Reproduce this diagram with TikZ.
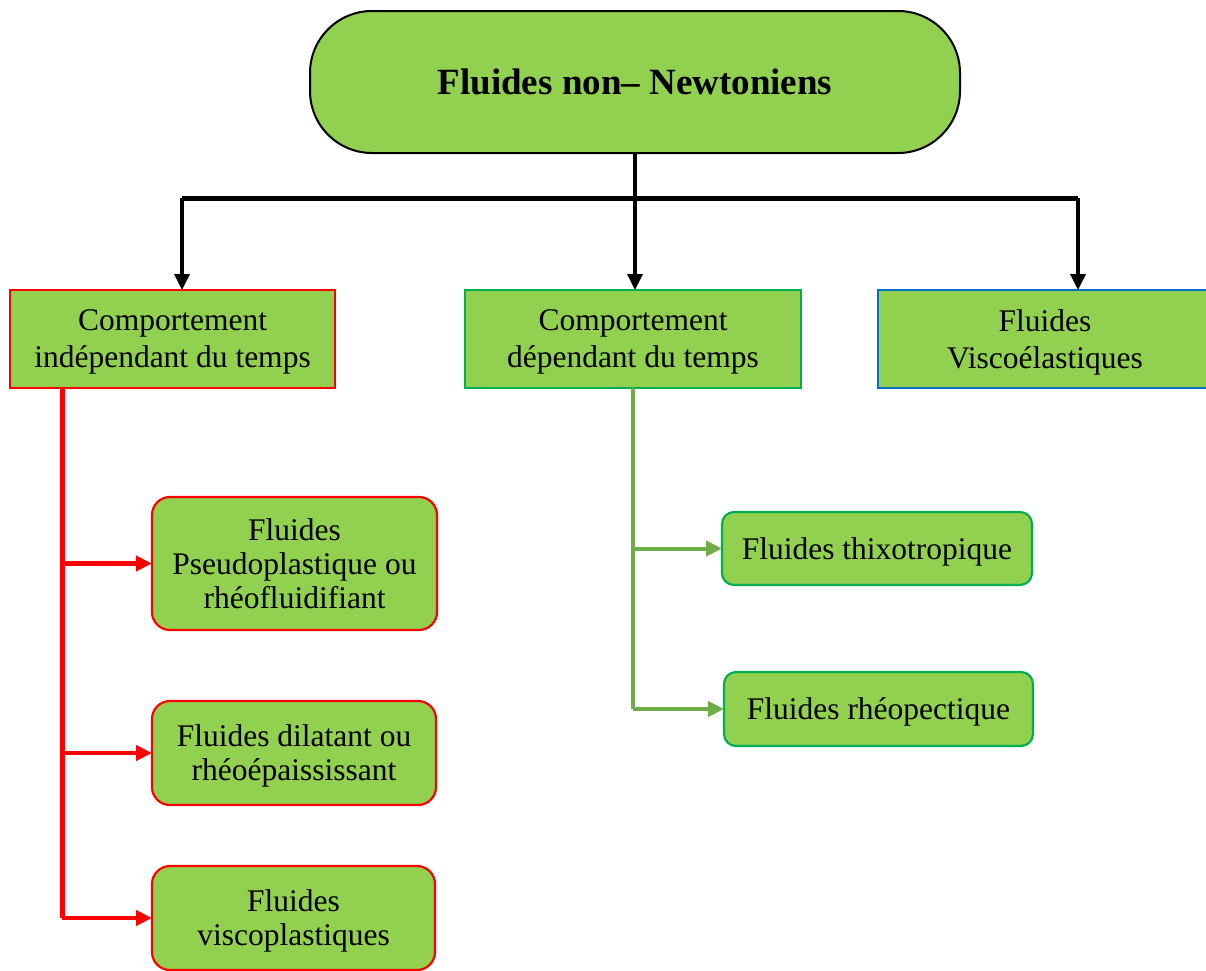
\documentclass[tikz,border=0pt]{standalone}
\usepackage{fontspec}
\setmainfont{Liberation Serif}
\usetikzlibrary{arrows.meta}
\definecolor{leaf}{HTML}{92D050}
\definecolor{boxgreen}{HTML}{00B050}
\definecolor{boxblue}{HTML}{0070C0}
\definecolor{linegreen}{HTML}{70AD47}
\tikzset{
    every node/.style={font=\fontsize{31.5}{37}\selectfont, align=center, inner sep=0, outer sep=0, text depth=-1.5pt},
    cat/.style={draw=#1, fill=leaf, line width=2pt, minimum width=325pt, minimum height=98pt},
    sub/.style={draw=#1, fill=leaf, line width=2.2pt, rounded corners=18pt, font=\fontsize{31.5}{34}\selectfont},
    tip/.style={-{Triangle[length=16pt,width=15pt]}},
}
\begin{document}
\begin{tikzpicture}[x=1pt, y=-1pt]
    \useasboundingbox (0,0) rectangle (1206,970);

    % top node
    \node[draw, fill=leaf, line width=2pt, rounded corners=62pt, minimum width=650pt, minimum height=142pt,
          font=\fontsize{37}{44}\selectfont\bfseries] (nn) at (635,82) {Fluides non-- Newtoniens};

    % the three families
    \node[cat=red, minimum width=325pt] (ind) at (172.5,339) {Comportement\\indépendant du temps};
    \node[cat=boxgreen, minimum width=336pt] (dep) at (633,339) {Comportement\\dépendant du temps};
    \node[cat=boxblue, minimum width=334pt] (visc) at (1045,339) {Fluides\\Viscoélastiques};

    % time independent fluids
    \node[sub=red, minimum width=285pt, minimum height=133pt] (pseudo) at (294.5,563.5) {Fluides\\Pseudoplastique ou\\rhéofluidifiant};
    \node[sub=red, minimum width=284pt, minimum height=104pt] (dil) at (294,753) {Fluides dilatant ou\\rhéoépaississant};
    \node[sub=red, minimum width=283pt, minimum height=104pt] (vp) at (293.5,918) {Fluides\\viscoplastiques};

    % time dependent fluids
    \node[sub=boxgreen, rounded corners=12pt, minimum width=310pt, minimum height=73pt] (thixo) at (877,548.5) {Fluides thixotropique};
    \node[sub=boxgreen, rounded corners=12pt, minimum width=309pt, minimum height=74pt] (rheo) at (878.5,709) {Fluides rhéopectique};

    % black tree
    \coordinate (barl) at (182,198);
    \coordinate (barr) at (1078,198);
    \draw[line width=5pt] (barl) -- (barr);
    \draw[tip, line width=3.5pt] (nn.south) -- (nn.south |- dep.north);
    \draw[tip, line width=3.5pt] (barl) -- (barl |- ind.north);
    \draw[tip, line width=3.5pt] (barr) -- (barr |- visc.north);

    % red branches
    \coordinate (rr) at (62,918);
    \draw[red, line width=5pt] (ind.south -| rr) -- (rr);
    \foreach \n in {pseudo,dil,vp}
        \draw[tip, red, line width=4.5pt] (\n.west -| rr) -- (\n.west);

    % green branches
    \coordinate (gg) at (633,709);
    \draw[linegreen, line width=4pt] (dep.south -| gg) -- (gg);
    \foreach \n in {thixo,rheo}
        \draw[tip, linegreen, line width=4pt] (\n.west -| gg) -- (\n.west);
\end{tikzpicture}
\end{document}
